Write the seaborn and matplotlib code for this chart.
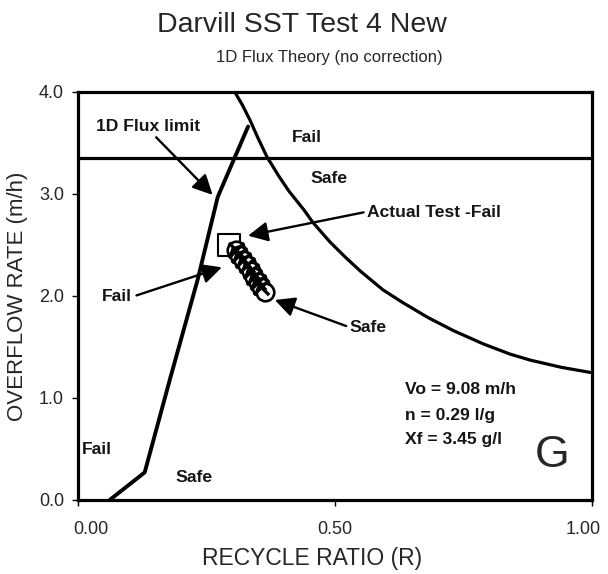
import matplotlib
matplotlib.use("Agg")
import matplotlib.pyplot as plt
import matplotlib.transforms as mtrans
import seaborn as sns
import pandas as pd

# ---- data ----
flux_R = [0.062, 0.130, 0.180, 0.233, 0.272, 0.331]
flux_V = [0.00, 0.27, 1.20, 2.16, 2.97, 3.66]

curve_R = [0.305, 0.320, 0.335, 0.350, 0.368, 0.390, 0.410, 0.440, 0.457,
           0.490, 0.520, 0.550, 0.593, 0.630, 0.680, 0.730, 0.788, 0.840,
           0.880, 0.940, 0.996]
curve_V = [4.00, 3.87, 3.72, 3.55, 3.36, 3.18, 3.03, 2.84, 2.72,
           2.53, 2.38, 2.24, 2.06, 1.94, 1.79, 1.66, 1.53, 1.43,
           1.37, 1.30, 1.25]

limit_V = 3.35

test_R = [0.294]
test_V = [2.50]

run_R = [0.307, 0.314, 0.321, 0.328, 0.336, 0.343, 0.350, 0.357, 0.364]
run_V = [2.45, 2.40, 2.35, 2.30, 2.24, 2.19, 2.14, 2.09, 2.04]

x_ticks = [0.0, 0.5, 1.0]
x_tick_labels = ["0.00", "0.50", "1.00"]
y_ticks = [0.0, 1.0, 2.0, 3.0, 4.0]
y_tick_labels = ["0.0", "1.0", "2.0", "3.0", "4.0"]

sns.set_style("white")
plt.rcParams["font.family"] = ["Liberation Sans", "DejaVu Sans"]

fig = plt.figure(figsize=(6.08, 5.74), dpi=100)
ax = fig.add_axes([0.128, 0.129, 0.846, 0.711])

flux_df = pd.DataFrame({"R": flux_R, "V": flux_V})
curve_df = pd.DataFrame({"R": curve_R, "V": curve_V})
sns.lineplot(data=flux_df, x="R", y="V", ax=ax, color="black", lw=2.8, sort=False)
sns.lineplot(data=curve_df, x="R", y="V", ax=ax, color="black", lw=2.3, sort=False)
ax.axhline(limit_V, color="black", lw=2.3)

run_df = pd.DataFrame({"R": run_R, "V": run_V})
sns.scatterplot(data=run_df, x="R", y="V", ax=ax, marker="o", s=160,
                facecolor="white", edgecolor="black", linewidth=1.9, zorder=4)
sns.scatterplot(data=run_df.iloc[:-1], x="R", y="V", ax=ax, marker="x", s=120,
                color="black", linewidth=2.4, zorder=5)
test_df = pd.DataFrame({"R": test_R, "V": test_V})
sns.scatterplot(data=test_df, x="R", y="V", ax=ax, marker="s", s=240,
                facecolor="none", edgecolor="black", linewidth=1.5, zorder=3)

ax.set_xlim(0, 1.0)
ax.set_ylim(0, 4.0)
ax.set_xticks(x_ticks)
ax.set_xticklabels(x_tick_labels)
ax.set_yticks(y_ticks)
ax.set_yticklabels(y_tick_labels)
ax.tick_params(axis="both", direction="out", length=4, width=1, labelsize=13,
               bottom=True, left=True, color="black")
ax.tick_params(axis="x", pad=11)
ax.tick_params(axis="y", pad=6)
xl = ax.get_xticklabels()
xl[0].set_transform(xl[0].get_transform() +
                    mtrans.ScaledTranslation(13 / 100, 0, fig.dpi_scale_trans))
xl[-1].set_transform(xl[-1].get_transform() +
                     mtrans.ScaledTranslation(-9 / 100, 0, fig.dpi_scale_trans))
for sp in ax.spines.values():
    sp.set_color("black")
    sp.set_linewidth(2.3)

ax.set_xlabel("RECYCLE RATIO (R)", fontsize=16.5, labelpad=8)
ax.xaxis.set_label_coords(0.455, -0.115)
ax.set_ylabel("OVERFLOW RATE (m/h)", fontsize=16, labelpad=8)

fig.text(0.497, 0.956, "Darvill SST Test 4 New", ha="center", va="center",
         fontsize=20.5)
fig.text(0.541, 0.899, "1D Flux Theory (no correction)", ha="center",
         va="center", fontsize=12)

arrow = dict(arrowstyle="-|>", color="black", lw=1.7, mutation_scale=30,
             shrinkA=0, shrinkB=0)
tfont = dict(fontsize=12.6, fontweight="bold", color="#151515")

ax.annotate("1D Flux limit", xy=(0.262, 2.99), xytext=(0.136, 3.66),
            ha="center", va="center", arrowprops=dict(arrow, relpos=(0.55, 0.0)), **tfont)
ax.annotate("Fail", xy=(0.280, 2.28), xytext=(0.047, 1.99),
            ha="left", va="center", arrowprops=dict(arrow, relpos=(1.15, 0.6)), **tfont)
ax.annotate("Actual Test -Fail", xy=(0.331, 2.59), xytext=(0.562, 2.82),
            ha="left", va="center", arrowprops=dict(arrow, relpos=(-0.02, 0.5)), **tfont)
ax.annotate("Safe", xy=(0.383, 1.96), xytext=(0.529, 1.69),
            ha="left", va="center", arrowprops=dict(arrow, relpos=(-0.1, 0.6)), **tfont)

ax.text(0.446, 3.55, "Fail", ha="center", va="center", **tfont)
ax.text(0.488, 3.15, "Safe", ha="center", va="center", **tfont)
ax.text(0.008, 0.49, "Fail", ha="left", va="center", **tfont)
ax.text(0.189, 0.22, "Safe", ha="left", va="center", **tfont)
ax.text(0.636, 1.08, "Vo = 9.08 m/h", ha="left", va="center", **tfont)
ax.text(0.636, 0.83, "n = 0.29 l/g", ha="left", va="center", **tfont)
ax.text(0.636, 0.59, "Xf = 3.45 g/l", ha="left", va="center", **tfont)
ax.text(0.922, 0.44, "G", ha="center", va="center", fontsize=32)

fig.savefig("out.png", dpi=100)
